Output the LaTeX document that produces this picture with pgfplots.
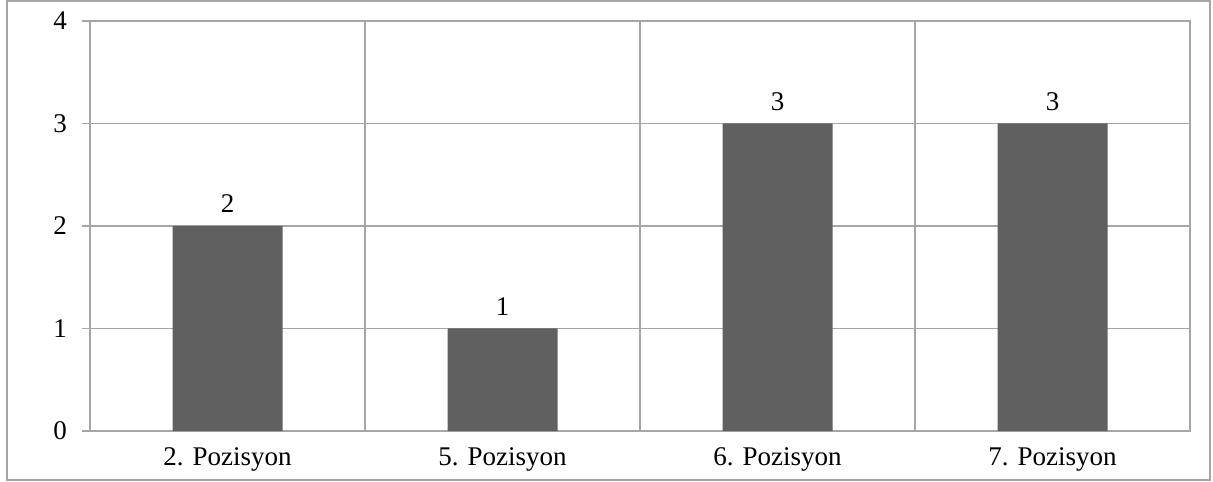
\documentclass[border=0pt]{standalone}
\usepackage{pgfplots}
\pgfplotsset{compat=1.18}
\usepackage{fontspec}
\setmainfont{Liberation Serif}
\definecolor{bargray}{HTML}{606060}
\definecolor{gridgray}{HTML}{A6A6A6}
\begin{document}
\begin{tikzpicture}
\useasboundingbox (0pt,0pt) rectangle (606.5pt,240.5pt);
\draw[gridgray, line width=0.6pt] (3.5pt,0.5pt) rectangle (605pt,240pt);
\begin{axis}[
    at={(45pt,25pt)}, anchor=south west,
    scale only axis, width=550pt, height=205pt,
    xmin=-0.5, xmax=3.5, ymin=0, ymax=4,
    ybar, bar width=55pt,
    xtick={0,1,2,3},
    xticklabels={2. Pozisyon,5. Pozisyon,6. Pozisyon,7. Pozisyon},
    minor xtick={0.5,1.5,2.5},
    xminorgrids, ymajorgrids,
    ytick={0,1,2,3,4},
    ytick pos=left,
    major x tick style={draw=none},
    minor x tick style={draw=none},
    tick align=outside, major tick length=4pt,
    every tick/.style={gridgray, line width=0.6pt},
    axis line style={gridgray, line width=0.6pt},
    grid style={gridgray, line width=0.6pt},
    ticklabel style={font=\fontsize{13.5}{16}\selectfont, text=black},
    yticklabel style={xshift=-4pt},
    xticklabel style={yshift=-1pt},
    /pgf/number format/assume math mode=true,
    nodes near coords,
    every node near coord/.append style={font=\fontsize{13.5}{16}\selectfont, text=black, yshift=3pt},
  ]
  % Adet
  \addplot[fill=bargray, draw=none] coordinates {(0,2) (1,1) (2,3) (3,3)};
\end{axis}
\end{tikzpicture}
\end{document}
